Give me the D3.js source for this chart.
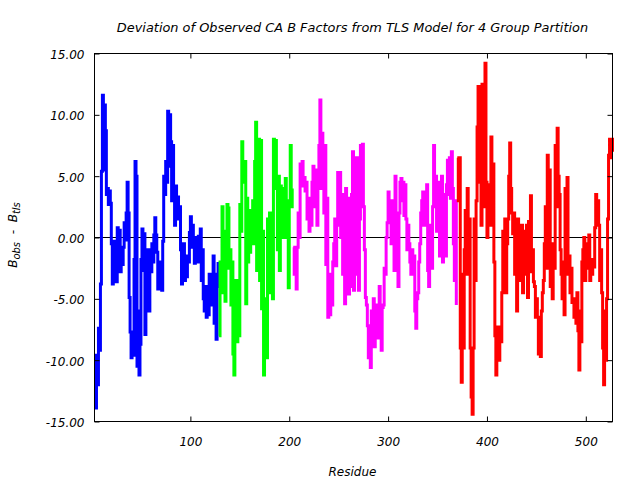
<!DOCTYPE html>
<html>
<head>
<meta charset="utf-8">
<script src="https://cdn.jsdelivr.net/npm/d3@7"></script>
<style>
  html, body { margin: 0; padding: 0; background: #fff; }
  svg { display: block; }
  text { font-family: "DejaVu Sans", sans-serif; font-style: italic; fill: #000; }
</style>
</head>
<body>
<div id="chart"></div>
<script>
// ---------------- data ----------------
const chartTitle = "Deviation of Observed CA B Factors from TLS Model for 4 Group Partition";
const xLabel = "Residue";
const xDomain = [3, 527];
const yDomain = [-15, 15];
const xTicks = [100, 200, 300, 400, 500];
const yTicks = [-15, -10, -5, 0, 5, 10, 15];

// group 1 (blue) residues 3..128
const group1Start = 3;
const group1Values = [
  -12.2, -13.9, -9.6, -12.0, -7.4, -9.2, -3.8, 5.4, 11.6, 5.5,
  10.8, 8.7, 3.5, 4.0, 2.7, 3.8, 2.8, -0.5, -3.8, -0.3,
  -3.5, -1.2, -3.6, 0.8, -2.0, 0.6, -2.8, -1.5, -2.2, -0.8,
  1.2, -0.2, 2.0, 4.5, 2.0, -4.9, -7.7, -9.8, -8.0, -9.6,
  -1.8, 6.2, 5.0, -10.5, -6.0, -11.2, -8.7, -1.8, 0.7, -2.7,
  0.3, -7.9, -2.8, -6.0, -1.0, -6.0, -1.5, -2.8, -0.5, -2.0,
  0.2, 1.6, 0.2, -1.2, -4.2, -2.5, -4.2, -2.0, -4.3, -0.3,
  5.0, 3.5, 6.2, 4.5, 10.3, 5.8, 10.0, 7.8, 3.0, 7.5,
  3.0, 1.0, 4.2, 1.5, 3.3, 2.0,
  2.5, -1.0, -3.8, -2.0, -0.5, -3.5, -1.8, -3.2, -1.5, -2.0,
  0.4, 1.7, -0.8, 1.0, -0.5, -2.1, 0.0, -0.3, -2.0, 0.1,
  -0.8, 0.7, -3.5, -1.0, -5.0, -6.0, -4.0, -6.5, -4.5, -6.3,
  -3.0, -5.5, -3.5, -5.5, -1.5, -7.0, -3.0, -8.3, -4.0, -2.0
];

// group 2 (green) residues 129..203
const group2Start = 129;
const group2Values = [
  -8.0, -2.0, -4.0, 2.5, -4.5, 0.5, -5.2, -1.0, 2.7, 2.4,
  -2.5, -1.0, -5.5, -2.0, -9.5, -11.2, -7.0, -3.5, -8.5, -3.5,
  -8.0, 2.7, 0.5, 7.8, 4.5, 5.0, 6.2, -5.4, 3.2, -2.0,
  2.2, -1.2, 2.0, 0.5, 3.0, -0.5, 6.2, 9.4, -2.7, 5.0,
  8.0, -3.5, 7.9, -5.8, 0.5, -11.2, -5.0, -5.5, -9.8, 1.5,
  -1.5, 2.0, -4.5, 0.0, -5.0, 8.0, 5.0, 7.9, 4.0, -1.0,
  5.0, -2.7, 4.2, 1.0, 4.0, 0.0, 3.0, 4.8, 0.0, 2.8,
  -4.1, 3.0, 7.5, 2.5, 4.0
];

// group 3 (magenta) residues 204..369
const group3Start = 204;
const group3Values = [
  -0.8, -3.0, -1.0, -4.2, -0.8, 2.0, 0.0, 6.0, 4.5, 6.2,
  4.2, 4.9, 3.8, 4.5, 1.5, 2.5, 0.5, 3.2, 1.0, 4.5,
  5.8, 2.5, 5.5, 4.0, 1.0, 5.0, 7.5, 11.2, 4.0, 8.5,
  7.2, 2.0, 7.5, -2.2, 3.2, -6.5, -4.0, -6.3, -3.0, -5.5,
  -2.0, -0.5, 1.5, -2.3, 1.0, 5.3, 3.0, 5.3, 0.0, 3.5,
  -3.0, 3.0, -5.4, 4.0, 0.0, 3.2, -4.6, 2.0, -4.0, 3.5,
  7.0, -4.3, 4.5, -3.0, 6.5, 1.0, -4.3, 1.5, 7.5, 5.0,
  7.6, 2.5, -1.0, -4.9, -5.5, -7.2, -9.8, -7.5, -10.6, -6.0,
  -8.0, -5.0, -8.9, -6.0, -7.6, -5.5, -8.2, -4.0, -8.0, -9.2,
  -5.7, -5.5, -2.5, -3.0, 0.0, 1.2, 3.7, 1.2, 2.5, -0.5,
  3.0, 1.5, -2.7, 5.0, -1.0, 1.0, -4.0, 2.0, 4.5, 4.8,
  3.0, 4.5, 1.8, 4.3, 1.5, -1.0, 1.0, -0.5, -2.0, -3.0,
  -1.0, -3.0, -1.5, -6.0, -7.4, -5.0, -4.5, -2.0, -0.5, 2.0,
  3.0, 3.7, 1.0, 3.2, 1.5, 4.3, -2.7, -4.0, 1.0, -1.5,
  -2.5, 2.5, 7.5, 4.0, 5.0, 0.5, 4.5, 1.0, -1.5, 3.5,
  5.0, -2.0, 2.0, 3.5, -1.5, 4.3, 6.3, 3.5, 6.5, 3.2,
  7.0, 4.0, -0.5, -3.5, 3.0, -5.5
];

// group 4 (red) residues 370..527
const group4Start = 370;
const group4Values = [
  6.5, 3.0, 6.5, -9.0, -11.8, -3.0, -9.0, -1.0, 2.2, -3.0,
  4.0, -1.5, 1.5, -9.0, -13.0, -14.4, -9.0, 1.5, -3.5, 3.0,
  9.0, 12.3, 4.5, 10.2, 1.0, 12.5, 2.5, 11.2, 14.2, 4.5,
  0.0, 4.3, 1.0, 4.0, 8.2, 1.0, 6.0, -2.0, -8.0, -11.2,
  -9.0, -7.3, -10.0, -8.3, -8.5, -4.5, 0.5, -1.0, 1.5, -4.5,
  -0.5, 1.5, 5.0, 7.7, 4.0, 2.0, 0.3, 2.0, -3.0, 0.5,
  -6.0, 1.5, -1.0, 1.0, -3.5, 1.0, -4.5, -2.0, 0.5, -3.0,
  1.0,
  -4.9, 1.3, -2.0, 3.4, -2.8, -1.0, -3.6, -4.0, -6.5, -5.0,
  -6.5, -9.5, -7.2, -9.7, -6.0, -4.5, -3.5, -0.5, 2.5, -2.5,
  6.7, 0.0, 5.5, -4.0, -1.0, -5.0, -0.5, -2.5, 7.5, 2.5,
  8.9, 5.0, 3.5, -1.0, -3.0, -5.0, -2.0, -6.3, 4.0, -2.0,
  4.9, -3.0, -1.5, -4.5, -2.5, -5.3, -5.0, -6.5, -5.5, -7.0,
  -4.5, -7.6, -10.8, -6.0, -8.5, -2.0, -1.0, 0.0, -3.5, -1.0,
  -2.5, -0.5, 0.2, -3.5, -1.8, -3.0, -2.0, -2.4, 0.8, 3.5,
  2.0, 3.0, 1.0, -3.5, -1.0, -4.5, -9.0, -12.0, -6.0, -10.0,
  -5.0, 1.5, 6.7, 8.0, 6.5, 8.0, 7.0
];

const groupStarts = [group1Start, group2Start, group3Start, group4Start];
const groupValues = [group1Values, group2Values, group3Values, group4Values];

// ---------------- drawing ----------------
const W = 640, H = 480;
const pLeft = 94.5, pRight = 612.5, pTop = 53.5, pBottom = 421.5;
const groupColors = ["#0000ff", "#00ff00", "#ff00ff", "#ff0000"];

const svg = d3.select("#chart").append("svg")
  .attr("width", W).attr("height", H);

const x = d3.scaleLinear().domain(xDomain).range([pLeft, pRight]);
const y = d3.scaleLinear().domain(yDomain).range([pBottom, pTop]);

// zero axis
svg.append("line")
  .attr("x1", pLeft).attr("x2", pRight)
  .attr("y1", y(0)).attr("y2", y(0))
  .attr("stroke", "#000").attr("stroke-width", 1);

// series
const line = d3.line()
  .x(d => x(d[0]))
  .y(d => y(d[1]))
  .curve(d3.curveStepAfter);

groupValues.forEach((vals, gi) => {
  const pts = vals.map((v, i) => [groupStarts[gi] + i, v]);
  svg.append("path")
    .datum(pts)
    .attr("d", line)
    .attr("fill", "none")
    .attr("stroke", groupColors[gi])
    .attr("stroke-width", 3)
    .attr("stroke-linejoin", "miter");
});

// axes
const fmt = d => d.toFixed(2);
function styleAxis(g) {
  g.attr("font-family", null).attr("font-size", null);
  g.select(".domain").remove();
  g.selectAll(".tick line").attr("stroke", "#000");
  g.selectAll(".tick text").style("font-size", "12px").attr("fill", "#000");
}

svg.append("g")
  .attr("transform", `translate(${pLeft},0)`)
  .call(d3.axisLeft(y).tickValues(yTicks).tickSize(-5).tickPadding(10).tickFormat(fmt))
  .call(styleAxis)
  .call(g => g.selectAll(".tick text").attr("dy", "0.42em"));

svg.append("g")
  .attr("transform", `translate(${pRight},0)`)
  .call(d3.axisRight(y).tickValues(yTicks).tickSize(-5).tickFormat(""))
  .call(styleAxis);

svg.append("g")
  .attr("transform", `translate(0,${pBottom})`)
  .call(d3.axisBottom(x).tickValues(xTicks).tickSize(-5).tickPadding(16).tickFormat(d3.format("d")))
  .call(styleAxis);

svg.append("g")
  .attr("transform", `translate(0,${pTop})`)
  .call(d3.axisTop(x).tickValues(xTicks).tickSize(-5).tickFormat(""))
  .call(styleAxis);

// border
svg.append("rect")
  .attr("x", pLeft).attr("y", pTop)
  .attr("width", pRight - pLeft).attr("height", pBottom - pTop)
  .attr("fill", "none").attr("stroke", "#000").attr("stroke-width", 1);

// title
svg.append("text")
  .attr("x", (pLeft + pRight) / 2 - 1).attr("y", 32)
  .attr("text-anchor", "middle")
  .style("font-size", "12.9px")
  .text(chartTitle);

// x label
svg.append("text")
  .attr("x", (pLeft + pRight) / 2 - 1).attr("y", 476)
  .attr("text-anchor", "middle")
  .style("font-size", "12px")
  .text(xLabel);

// y label: B_obs - B_tls
const yl = svg.append("text")
  .attr("transform", `translate(17,235) rotate(-90)`)
  .attr("text-anchor", "middle")
  .style("font-size", "12px")
  .style("white-space", "pre");
yl.append("tspan").text("B");
yl.append("tspan").attr("dy", 3).style("font-size", "10px").text("obs");
yl.append("tspan").attr("dy", -3).text("  -  B");
yl.append("tspan").attr("dy", 3).style("font-size", "10px").text("tls");
</script>
</body>
</html>
